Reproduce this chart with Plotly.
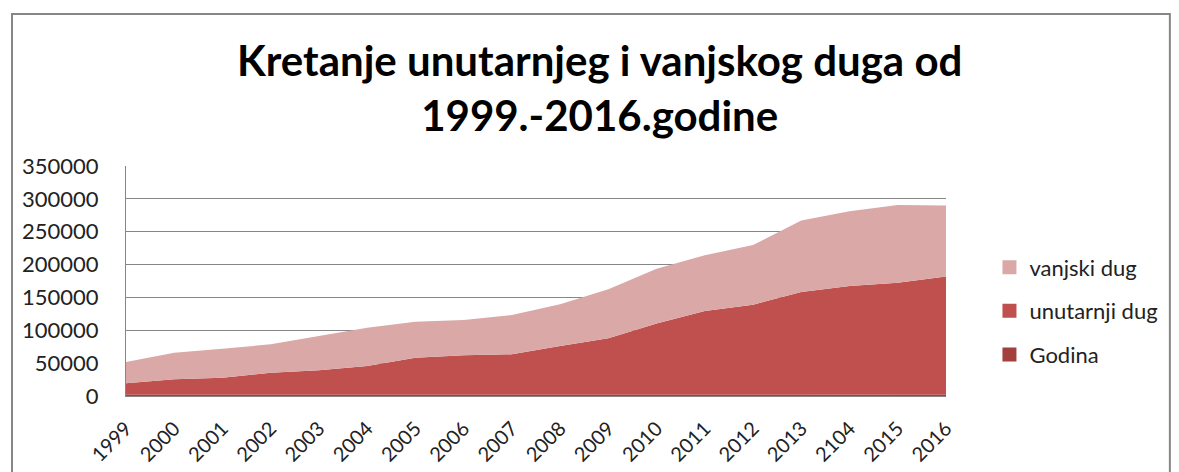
import plotly.graph_objects as go

# podaci ocitani sa slike
godine = ["1999", "2000", "2001", "2002", "2003", "2004", "2005", "2006", "2007",
          "2008", "2009", "2010", "2011", "2012", "2013", "2104", "2015", "2016"]
godina = [1999, 2000, 2001, 2002, 2003, 2004, 2005, 2006, 2007,
          2008, 2009, 2010, 2011, 2012, 2013, 2104, 2015, 2016]
unutarnji_dug = [17300, 23400, 25900, 33500, 37000, 43600, 56300, 59900, 61400,
                 74100, 85700, 108500, 127300, 136900, 156200, 165300, 170400, 180000]
vanjski_dug = [32400, 40500, 44100, 43100, 52300, 58400, 54800, 53700, 59800,
               63400, 74600, 83200, 84700, 90800, 109000, 113600, 118200, 108000]

colors = {"Godina": "#a33f3d", "unutarnji dug": "#c0504d", "vanjski dug": "#d9a8a7"}
rank = {"vanjski dug": 1, "unutarnji dug": 2, "Godina": 3}
font = "Lato, Open Sans, sans-serif"

fig = go.Figure()
for name, vals in [("Godina", godina), ("unutarnji dug", unutarnji_dug), ("vanjski dug", vanjski_dug)]:
    fig.add_trace(go.Scatter(x=godine, y=vals, name=name, mode="none", stackgroup="one",
                             fillcolor=colors[name], showlegend=False))
    # kvadratic u legendi
    fig.add_trace(go.Scatter(x=[None], y=[None], name=name, mode="markers", legendgroup=name,
                             legendrank=rank[name],
                             marker=dict(symbol="square", size=14, color=colors[name])))

fig.update_layout(
    width=1179, height=472,
    margin=dict(l=118, r=241, t=158, b=84),
    paper_bgcolor="white", plot_bgcolor="white",
    font=dict(family=font, size=20, color="#222"),
    legend=dict(x=1.053, y=0.37, yanchor="middle", xanchor="left", traceorder="grouped",
                itemwidth=30, tracegroupgap=12, font=dict(size=22), bgcolor="rgba(0,0,0,0)"),
    showlegend=True,
    annotations=[dict(text="<b>Kretanje unutarnjeg i vanjskog duga od<br>1999.-2016.godine</b>",
                      xref="paper", yref="paper", x=0.578, y=1.34, xanchor="center", yanchor="middle",
                      showarrow=False, font=dict(size=42, color="black", family=font))],
)
fig.update_xaxes(type="category", range=[0, 17], tickangle=-45, showgrid=False,
                 showline=True, linecolor="#868686", linewidth=1,
                 ticks="outside", ticklen=12, tickcolor="rgba(0,0,0,0)", tickfont=dict(size=20))
fig.update_yaxes(range=[0, 350000], dtick=50000, showgrid=True, gridcolor="#868686", gridwidth=1,
                 showline=True, linecolor="#868686", zeroline=False, tickformat="d",
                 ticks="", ticklabelstandoff=22, tickfont=dict(size=22))
# okvir grafikona
fig.add_shape(type="rect", xref="paper", yref="paper", x0=-0.139, x1=1.273, y0=-0.4, y1=1.661,
              line=dict(color="#868686", width=2), fillcolor="rgba(0,0,0,0)", layer="below")

fig.write_html("out.html")
